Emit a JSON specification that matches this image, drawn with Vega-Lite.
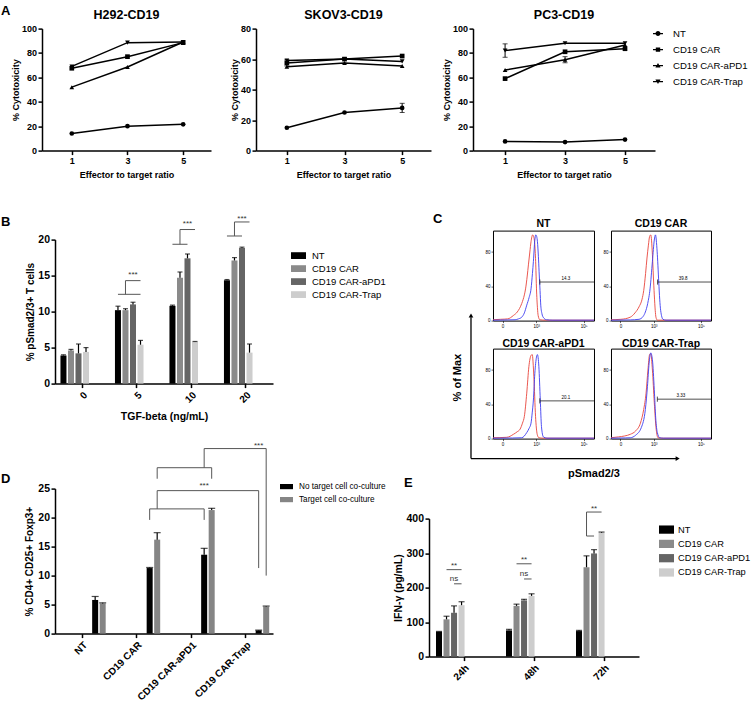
{
"$schema": "https://vega.github.io/schema/vega-lite/v6.json",
"background": "white",
"padding": {"left": 1, "top": 4.6, "right": 0, "bottom": 0},
"autosize": {"type": "pad"},
"spacing": 33,
"resolve": {"scale": {"color": "independent", "shape": "independent"}, "legend": {"color": "independent", "shape": "independent"}},
"datasets": {
"cytotoxicity": [
{"target":"H292-CD19","group":"NT","ratio":1,"pct":14},
{"target":"H292-CD19","group":"NT","ratio":3,"pct":20},
{"target":"H292-CD19","group":"NT","ratio":5,"pct":21.5},
{"target":"H292-CD19","group":"CD19 CAR","ratio":1,"pct":67.5},
{"target":"H292-CD19","group":"CD19 CAR","ratio":3,"pct":77},
{"target":"H292-CD19","group":"CD19 CAR","ratio":5,"pct":88.5},
{"target":"H292-CD19","group":"CD19 CAR-aPD1","ratio":1,"pct":52},
{"target":"H292-CD19","group":"CD19 CAR-aPD1","ratio":3,"pct":68.5},
{"target":"H292-CD19","group":"CD19 CAR-aPD1","ratio":5,"pct":89},
{"target":"H292-CD19","group":"CD19 CAR-Trap","ratio":1,"pct":69},
{"target":"H292-CD19","group":"CD19 CAR-Trap","ratio":3,"pct":88.5},
{"target":"H292-CD19","group":"CD19 CAR-Trap","ratio":5,"pct":89},
{"target":"SKOV3-CD19","group":"NT","ratio":1,"pct":15},
{"target":"SKOV3-CD19","group":"NT","ratio":3,"pct":25},
{"target":"SKOV3-CD19","group":"NT","ratio":5,"pct":28,"lo":25,"hi":31},
{"target":"SKOV3-CD19","group":"CD19 CAR","ratio":1,"pct":57.5,"lo":55.5,"hi":59.5},
{"target":"SKOV3-CD19","group":"CD19 CAR","ratio":3,"pct":60},
{"target":"SKOV3-CD19","group":"CD19 CAR","ratio":5,"pct":62},
{"target":"SKOV3-CD19","group":"CD19 CAR-aPD1","ratio":1,"pct":55},
{"target":"SKOV3-CD19","group":"CD19 CAR-aPD1","ratio":3,"pct":57.5},
{"target":"SKOV3-CD19","group":"CD19 CAR-aPD1","ratio":5,"pct":55.5},
{"target":"SKOV3-CD19","group":"CD19 CAR-Trap","ratio":1,"pct":59},
{"target":"SKOV3-CD19","group":"CD19 CAR-Trap","ratio":3,"pct":60},
{"target":"SKOV3-CD19","group":"CD19 CAR-Trap","ratio":5,"pct":58.5},
{"target":"PC3-CD19","group":"NT","ratio":1,"pct":7.5},
{"target":"PC3-CD19","group":"NT","ratio":3,"pct":7},
{"target":"PC3-CD19","group":"NT","ratio":5,"pct":9},
{"target":"PC3-CD19","group":"CD19 CAR","ratio":1,"pct":59},
{"target":"PC3-CD19","group":"CD19 CAR","ratio":3,"pct":81},
{"target":"PC3-CD19","group":"CD19 CAR","ratio":5,"pct":83.5},
{"target":"PC3-CD19","group":"CD19 CAR-aPD1","ratio":1,"pct":66},
{"target":"PC3-CD19","group":"CD19 CAR-aPD1","ratio":3,"pct":74.5,"lo":72,"hi":77},
{"target":"PC3-CD19","group":"CD19 CAR-aPD1","ratio":5,"pct":86.5},
{"target":"PC3-CD19","group":"CD19 CAR-Trap","ratio":1,"pct":82,"lo":76.5,"hi":87.5},
{"target":"PC3-CD19","group":"CD19 CAR-Trap","ratio":3,"pct":88},
{"target":"PC3-CD19","group":"CD19 CAR-Trap","ratio":5,"pct":88}
],
"pSmad": [
{"tgf":0,"group":"NT","pct":3.9,"hi":4.0},
{"tgf":0,"group":"CD19 CAR","pct":4.6,"hi":4.75},
{"tgf":0,"group":"CD19 CAR-aPD1","pct":4.2,"hi":5.5},
{"tgf":0,"group":"CD19 CAR-Trap","pct":4.4,"hi":5.0},
{"tgf":5,"group":"NT","pct":10.2,"hi":10.75},
{"tgf":5,"group":"CD19 CAR","pct":10.2,"hi":10.4},
{"tgf":5,"group":"CD19 CAR-aPD1","pct":11.0,"hi":11.3},
{"tgf":5,"group":"CD19 CAR-Trap","pct":5.4,"hi":6.0},
{"tgf":10,"group":"NT","pct":10.8,"hi":10.9},
{"tgf":10,"group":"CD19 CAR","pct":14.7,"hi":15.5},
{"tgf":10,"group":"CD19 CAR-aPD1","pct":17.4,"hi":18.0},
{"tgf":10,"group":"CD19 CAR-Trap","pct":5.8,"hi":5.85},
{"tgf":20,"group":"NT","pct":14.35,"hi":14.45},
{"tgf":20,"group":"CD19 CAR","pct":17.1,"hi":17.5},
{"tgf":20,"group":"CD19 CAR-aPD1","pct":18.85,"hi":18.95},
{"tgf":20,"group":"CD19 CAR-Trap","pct":4.3,"hi":5.5}
],
"pSmadBrackets": [
{"seg":"5a","k":1,"tgf":5,"group":"NT","level":12.4},
{"seg":"5a","k":2,"tgf":5,"group":"CD19 CAR-Trap","level":12.4},
{"seg":"5b","k":1,"tgf":5,"group":"CD19 CAR","level":12.4},
{"seg":"5b","k":2,"tgf":5,"group":"CD19 CAR","level":14.3},
{"seg":"5b","k":3,"tgf":5,"group":"CD19 CAR-Trap","level":14.3},
{"seg":"10a","k":1,"tgf":10,"group":"NT","level":19.35},
{"seg":"10a","k":2,"tgf":10,"group":"CD19 CAR-aPD1","level":19.35},
{"seg":"10b","k":1,"tgf":10,"group":"CD19 CAR","level":19.35},
{"seg":"10b","k":2,"tgf":10,"group":"CD19 CAR","level":21.4},
{"seg":"10b","k":3,"tgf":10,"group":"CD19 CAR-Trap","level":21.4},
{"seg":"20a","k":1,"tgf":20,"group":"NT","level":20.5},
{"seg":"20a","k":2,"tgf":20,"group":"CD19 CAR-aPD1","level":20.5},
{"seg":"20b","k":1,"tgf":20,"group":"CD19 CAR","level":20.5},
{"seg":"20b","k":2,"tgf":20,"group":"CD19 CAR","level":22.45},
{"seg":"20b","k":3,"tgf":20,"group":"CD19 CAR-Trap","level":22.45}
],
"pSmadStars": [
{"tgf":5,"group":"CD19 CAR-aPD1","level":14.8,"label":"***"},
{"tgf":10,"group":"CD19 CAR-aPD1","level":21.9,"label":"***"},
{"tgf":20,"group":"CD19 CAR-aPD1","level":22.65,"label":"***"}
],
"treg": [
{"cell":"NT","culture":"No target cell co-culture","pct":5.8,"hi":6.4},
{"cell":"NT","culture":"Target cell co-culture","pct":5.2,"hi":5.3},
{"cell":"CD19 CAR","culture":"No target cell co-culture","pct":11.3,"hi":11.4},
{"cell":"CD19 CAR","culture":"Target cell co-culture","pct":16.2,"hi":17.4},
{"cell":"CD19 CAR-aPD1","culture":"No target cell co-culture","pct":13.6,"hi":14.7},
{"cell":"CD19 CAR-aPD1","culture":"Target cell co-culture","pct":21.3,"hi":21.6},
{"cell":"CD19 CAR-Trap","culture":"No target cell co-culture","pct":0.55,"hi":0.6},
{"cell":"CD19 CAR-Trap","culture":"Target cell co-culture","pct":4.65,"hi":4.75}
],
"tregBrackets": [
{"seg":"1a","k":1,"cell":"CD19 CAR","culture":"No target cell co-culture","level":19.6},
{"seg":"1a","k":2,"cell":"CD19 CAR","culture":"No target cell co-culture","level":21.5},
{"seg":"1a","k":3,"cell":"CD19 CAR-aPD1","culture":"No target cell co-culture","level":21.5},
{"seg":"1a","k":4,"cell":"CD19 CAR-aPD1","culture":"No target cell co-culture","level":19.6},
{"seg":"1b","k":1,"cell":"CD19 CAR","culture":"Target cell co-culture","level":21.5},
{"seg":"1b","k":2,"cell":"CD19 CAR","culture":"Target cell co-culture","level":24.65},
{"seg":"1b","k":3,"cell":"CD19 CAR-Trap","culture":"No target cell co-culture","level":24.65},
{"seg":"1b","k":4,"cell":"CD19 CAR-Trap","culture":"No target cell co-culture","level":11.3},
{"seg":"2a","k":1,"cell":"CD19 CAR","culture":"Target cell co-culture","level":26.7},
{"seg":"2a","k":2,"cell":"CD19 CAR","culture":"Target cell co-culture","level":28.6},
{"seg":"2a","k":3,"cell":"CD19 CAR-aPD1","culture":"Target cell co-culture","level":28.6},
{"seg":"2a","k":4,"cell":"CD19 CAR-aPD1","culture":"Target cell co-culture","level":26.7},
{"seg":"2b","k":1,"cell":"CD19 CAR-aPD1","culture":"No target cell co-culture","level":28.6},
{"seg":"2b","k":2,"cell":"CD19 CAR-aPD1","culture":"No target cell co-culture","level":31.9},
{"seg":"2b","k":3,"cell":"CD19 CAR-Trap","culture":"Target cell co-culture","level":31.9},
{"seg":"2b","k":4,"cell":"CD19 CAR-Trap","culture":"Target cell co-culture","level":10.0}
],
"tregStars": [
{"cell":"CD19 CAR-aPD1","culture":"No target cell co-culture","level":25.1,"label":"***"},
{"cell":"CD19 CAR-Trap","culture":"No target cell co-culture","level":32.0,"label":"***"}
],
"ifng": [
{"time":"24h","group":"NT","ifng":72,"hi":73},
{"time":"24h","group":"CD19 CAR","ifng":108,"hi":117},
{"time":"24h","group":"CD19 CAR-aPD1","ifng":127,"hi":147},
{"time":"24h","group":"CD19 CAR-Trap","ifng":149,"hi":159},
{"time":"48h","group":"NT","ifng":76,"hi":79},
{"time":"48h","group":"CD19 CAR","ifng":147,"hi":152},
{"time":"48h","group":"CD19 CAR-aPD1","ifng":163,"hi":166},
{"time":"48h","group":"CD19 CAR-Trap","ifng":176,"hi":182},
{"time":"72h","group":"NT","ifng":74,"hi":76},
{"time":"72h","group":"CD19 CAR","ifng":259,"hi":292},
{"time":"72h","group":"CD19 CAR-aPD1","ifng":299,"hi":310},
{"time":"72h","group":"CD19 CAR-Trap","ifng":359,"hi":361}
],
"ifngBrackets": [
{"seg":"24a","k":1,"time":"24h","group":"CD19 CAR","level":252},
{"seg":"24a","k":2,"time":"24h","group":"CD19 CAR-Trap","level":252},
{"seg":"24b","k":1,"time":"24h","group":"CD19 CAR-aPD1","level":211},
{"seg":"24b","k":2,"time":"24h","group":"CD19 CAR-Trap","level":211},
{"seg":"48a","k":1,"time":"48h","group":"CD19 CAR","level":269},
{"seg":"48a","k":2,"time":"48h","group":"CD19 CAR-Trap","level":269},
{"seg":"48b","k":1,"time":"48h","group":"CD19 CAR-aPD1","level":225},
{"seg":"48b","k":2,"time":"48h","group":"CD19 CAR-Trap","level":225},
{"seg":"72a","k":1,"time":"72h","group":"CD19 CAR","level":349.5},
{"seg":"72a","k":2,"time":"72h","group":"CD19 CAR-aPD1","level":349.5},
{"seg":"72b","k":1,"time":"72h","group":"CD19 CAR","level":349.5},
{"seg":"72b","k":2,"time":"72h","group":"CD19 CAR","level":419},
{"seg":"72b","k":3,"time":"72h","group":"CD19 CAR-Trap","level":419}
],
"ifngStars": [
{"time":"24h","group":"CD19 CAR-aPD1","level":257,"label":"**"},
{"time":"24h","group":"CD19 CAR-aPD1","level":218,"label":"ns"},
{"time":"48h","group":"CD19 CAR-aPD1","level":274.5,"label":"**"},
{"time":"48h","group":"CD19 CAR-aPD1","level":232.5,"label":"ns"},
{"time":"72h","group":"CD19 CAR-aPD1","level":421.5,"label":"**"}
],
"gates": [
{"sample":"NT","gate_start":3.15,"percent":"14.3"},
{"sample":"CD19 CAR","gate_start":3.16,"percent":"39.8"},
{"sample":"CD19 CAR-aPD1","gate_start":3.15,"percent":"20.1"},
{"sample":"CD19 CAR-Trap","gate_start":3.15,"percent":"3.33"}
],
"histograms": [
{"sample":"NT","stain":"Unstimulated","log_fi":1.18,"pct_max":1},
{"sample":"NT","stain":"Unstimulated","log_fi":1.5,"pct_max":1.5},
{"sample":"NT","stain":"Unstimulated","log_fi":1.8,"pct_max":2},
{"sample":"NT","stain":"Unstimulated","log_fi":2.04,"pct_max":6},
{"sample":"NT","stain":"Unstimulated","log_fi":2.2,"pct_max":10},
{"sample":"NT","stain":"Unstimulated","log_fi":2.39,"pct_max":20},
{"sample":"NT","stain":"Unstimulated","log_fi":2.5,"pct_max":30},
{"sample":"NT","stain":"Unstimulated","log_fi":2.55,"pct_max":37},
{"sample":"NT","stain":"Unstimulated","log_fi":2.62,"pct_max":52},
{"sample":"NT","stain":"Unstimulated","log_fi":2.67,"pct_max":65},
{"sample":"NT","stain":"Unstimulated","log_fi":2.73,"pct_max":80},
{"sample":"NT","stain":"Unstimulated","log_fi":2.78,"pct_max":92},
{"sample":"NT","stain":"Unstimulated","log_fi":2.85,"pct_max":100},
{"sample":"NT","stain":"Unstimulated","log_fi":2.9,"pct_max":97},
{"sample":"NT","stain":"Unstimulated","log_fi":2.94,"pct_max":88},
{"sample":"NT","stain":"Unstimulated","log_fi":2.98,"pct_max":65},
{"sample":"NT","stain":"Unstimulated","log_fi":3.01,"pct_max":37},
{"sample":"NT","stain":"Unstimulated","log_fi":3.05,"pct_max":15},
{"sample":"NT","stain":"Unstimulated","log_fi":3.08,"pct_max":6},
{"sample":"NT","stain":"Unstimulated","log_fi":3.15,"pct_max":1},
{"sample":"NT","stain":"Unstimulated","log_fi":3.4,"pct_max":0.5},
{"sample":"NT","stain":"Unstimulated","log_fi":5.43,"pct_max":0.5},
{"sample":"NT","stain":"TGF-beta","log_fi":1.18,"pct_max":0.5},
{"sample":"NT","stain":"TGF-beta","log_fi":1.8,"pct_max":0.8},
{"sample":"NT","stain":"TGF-beta","log_fi":2.11,"pct_max":1},
{"sample":"NT","stain":"TGF-beta","log_fi":2.25,"pct_max":2},
{"sample":"NT","stain":"TGF-beta","log_fi":2.39,"pct_max":4},
{"sample":"NT","stain":"TGF-beta","log_fi":2.5,"pct_max":9},
{"sample":"NT","stain":"TGF-beta","log_fi":2.6,"pct_max":18},
{"sample":"NT","stain":"TGF-beta","log_fi":2.7,"pct_max":27},
{"sample":"NT","stain":"TGF-beta","log_fi":2.78,"pct_max":37},
{"sample":"NT","stain":"TGF-beta","log_fi":2.84,"pct_max":55},
{"sample":"NT","stain":"TGF-beta","log_fi":2.88,"pct_max":69},
{"sample":"NT","stain":"TGF-beta","log_fi":2.94,"pct_max":94},
{"sample":"NT","stain":"TGF-beta","log_fi":2.98,"pct_max":100},
{"sample":"NT","stain":"TGF-beta","log_fi":3.02,"pct_max":98},
{"sample":"NT","stain":"TGF-beta","log_fi":3.05,"pct_max":92},
{"sample":"NT","stain":"TGF-beta","log_fi":3.09,"pct_max":75},
{"sample":"NT","stain":"TGF-beta","log_fi":3.12,"pct_max":57},
{"sample":"NT","stain":"TGF-beta","log_fi":3.16,"pct_max":35},
{"sample":"NT","stain":"TGF-beta","log_fi":3.19,"pct_max":18},
{"sample":"NT","stain":"TGF-beta","log_fi":3.24,"pct_max":8},
{"sample":"NT","stain":"TGF-beta","log_fi":3.29,"pct_max":4},
{"sample":"NT","stain":"TGF-beta","log_fi":3.43,"pct_max":1},
{"sample":"NT","stain":"TGF-beta","log_fi":3.7,"pct_max":0.5},
{"sample":"NT","stain":"TGF-beta","log_fi":5.43,"pct_max":0.5},
{"sample":"CD19 CAR","stain":"Unstimulated","log_fi":1.18,"pct_max":1},
{"sample":"CD19 CAR","stain":"Unstimulated","log_fi":1.6,"pct_max":1.5},
{"sample":"CD19 CAR","stain":"Unstimulated","log_fi":2.0,"pct_max":4},
{"sample":"CD19 CAR","stain":"Unstimulated","log_fi":2.2,"pct_max":9},
{"sample":"CD19 CAR","stain":"Unstimulated","log_fi":2.37,"pct_max":16},
{"sample":"CD19 CAR","stain":"Unstimulated","log_fi":2.5,"pct_max":25},
{"sample":"CD19 CAR","stain":"Unstimulated","log_fi":2.57,"pct_max":35},
{"sample":"CD19 CAR","stain":"Unstimulated","log_fi":2.65,"pct_max":55},
{"sample":"CD19 CAR","stain":"Unstimulated","log_fi":2.71,"pct_max":73},
{"sample":"CD19 CAR","stain":"Unstimulated","log_fi":2.77,"pct_max":88},
{"sample":"CD19 CAR","stain":"Unstimulated","log_fi":2.82,"pct_max":98},
{"sample":"CD19 CAR","stain":"Unstimulated","log_fi":2.87,"pct_max":100},
{"sample":"CD19 CAR","stain":"Unstimulated","log_fi":2.94,"pct_max":77},
{"sample":"CD19 CAR","stain":"Unstimulated","log_fi":2.98,"pct_max":52},
{"sample":"CD19 CAR","stain":"Unstimulated","log_fi":3.02,"pct_max":30},
{"sample":"CD19 CAR","stain":"Unstimulated","log_fi":3.06,"pct_max":12},
{"sample":"CD19 CAR","stain":"Unstimulated","log_fi":3.09,"pct_max":4},
{"sample":"CD19 CAR","stain":"Unstimulated","log_fi":3.15,"pct_max":0.5},
{"sample":"CD19 CAR","stain":"Unstimulated","log_fi":5.43,"pct_max":0.5},
{"sample":"CD19 CAR","stain":"TGF-beta","log_fi":1.18,"pct_max":0.5},
{"sample":"CD19 CAR","stain":"TGF-beta","log_fi":2.0,"pct_max":0.8},
{"sample":"CD19 CAR","stain":"TGF-beta","log_fi":2.37,"pct_max":1.5},
{"sample":"CD19 CAR","stain":"TGF-beta","log_fi":2.55,"pct_max":5},
{"sample":"CD19 CAR","stain":"TGF-beta","log_fi":2.64,"pct_max":10},
{"sample":"CD19 CAR","stain":"TGF-beta","log_fi":2.74,"pct_max":20},
{"sample":"CD19 CAR","stain":"TGF-beta","log_fi":2.84,"pct_max":37},
{"sample":"CD19 CAR","stain":"TGF-beta","log_fi":2.94,"pct_max":69},
{"sample":"CD19 CAR","stain":"TGF-beta","log_fi":3.02,"pct_max":94},
{"sample":"CD19 CAR","stain":"TGF-beta","log_fi":3.07,"pct_max":100},
{"sample":"CD19 CAR","stain":"TGF-beta","log_fi":3.14,"pct_max":81},
{"sample":"CD19 CAR","stain":"TGF-beta","log_fi":3.21,"pct_max":45},
{"sample":"CD19 CAR","stain":"TGF-beta","log_fi":3.25,"pct_max":25},
{"sample":"CD19 CAR","stain":"TGF-beta","log_fi":3.29,"pct_max":12},
{"sample":"CD19 CAR","stain":"TGF-beta","log_fi":3.39,"pct_max":1.5},
{"sample":"CD19 CAR","stain":"TGF-beta","log_fi":3.52,"pct_max":0.5},
{"sample":"CD19 CAR","stain":"TGF-beta","log_fi":5.43,"pct_max":0.5},
{"sample":"CD19 CAR-aPD1","stain":"Unstimulated","log_fi":1.18,"pct_max":1},
{"sample":"CD19 CAR-aPD1","stain":"Unstimulated","log_fi":1.76,"pct_max":1.5},
{"sample":"CD19 CAR-aPD1","stain":"Unstimulated","log_fi":2.04,"pct_max":5},
{"sample":"CD19 CAR-aPD1","stain":"Unstimulated","log_fi":2.2,"pct_max":8},
{"sample":"CD19 CAR-aPD1","stain":"Unstimulated","log_fi":2.32,"pct_max":11},
{"sample":"CD19 CAR-aPD1","stain":"Unstimulated","log_fi":2.42,"pct_max":18},
{"sample":"CD19 CAR-aPD1","stain":"Unstimulated","log_fi":2.5,"pct_max":26},
{"sample":"CD19 CAR-aPD1","stain":"Unstimulated","log_fi":2.6,"pct_max":53},
{"sample":"CD19 CAR-aPD1","stain":"Unstimulated","log_fi":2.69,"pct_max":84},
{"sample":"CD19 CAR-aPD1","stain":"Unstimulated","log_fi":2.78,"pct_max":97},
{"sample":"CD19 CAR-aPD1","stain":"Unstimulated","log_fi":2.83,"pct_max":98},
{"sample":"CD19 CAR-aPD1","stain":"Unstimulated","log_fi":2.9,"pct_max":72},
{"sample":"CD19 CAR-aPD1","stain":"Unstimulated","log_fi":2.97,"pct_max":26},
{"sample":"CD19 CAR-aPD1","stain":"Unstimulated","log_fi":3.04,"pct_max":5},
{"sample":"CD19 CAR-aPD1","stain":"Unstimulated","log_fi":3.11,"pct_max":1},
{"sample":"CD19 CAR-aPD1","stain":"Unstimulated","log_fi":3.3,"pct_max":0.5},
{"sample":"CD19 CAR-aPD1","stain":"Unstimulated","log_fi":5.43,"pct_max":0.5},
{"sample":"CD19 CAR-aPD1","stain":"TGF-beta","log_fi":1.18,"pct_max":0.5},
{"sample":"CD19 CAR-aPD1","stain":"TGF-beta","log_fi":2.0,"pct_max":0.7},
{"sample":"CD19 CAR-aPD1","stain":"TGF-beta","log_fi":2.39,"pct_max":1},
{"sample":"CD19 CAR-aPD1","stain":"TGF-beta","log_fi":2.6,"pct_max":7},
{"sample":"CD19 CAR-aPD1","stain":"TGF-beta","log_fi":2.7,"pct_max":12},
{"sample":"CD19 CAR-aPD1","stain":"TGF-beta","log_fi":2.78,"pct_max":18},
{"sample":"CD19 CAR-aPD1","stain":"TGF-beta","log_fi":2.83,"pct_max":30},
{"sample":"CD19 CAR-aPD1","stain":"TGF-beta","log_fi":2.88,"pct_max":45},
{"sample":"CD19 CAR-aPD1","stain":"TGF-beta","log_fi":2.94,"pct_max":76},
{"sample":"CD19 CAR-aPD1","stain":"TGF-beta","log_fi":3.01,"pct_max":95},
{"sample":"CD19 CAR-aPD1","stain":"TGF-beta","log_fi":3.05,"pct_max":98},
{"sample":"CD19 CAR-aPD1","stain":"TGF-beta","log_fi":3.11,"pct_max":84},
{"sample":"CD19 CAR-aPD1","stain":"TGF-beta","log_fi":3.17,"pct_max":45},
{"sample":"CD19 CAR-aPD1","stain":"TGF-beta","log_fi":3.22,"pct_max":14},
{"sample":"CD19 CAR-aPD1","stain":"TGF-beta","log_fi":3.3,"pct_max":2},
{"sample":"CD19 CAR-aPD1","stain":"TGF-beta","log_fi":3.45,"pct_max":0.5},
{"sample":"CD19 CAR-aPD1","stain":"TGF-beta","log_fi":5.43,"pct_max":0.5},
{"sample":"CD19 CAR-Trap","stain":"Unstimulated","log_fi":1.18,"pct_max":1},
{"sample":"CD19 CAR-Trap","stain":"Unstimulated","log_fi":1.5,"pct_max":2},
{"sample":"CD19 CAR-Trap","stain":"Unstimulated","log_fi":1.75,"pct_max":3},
{"sample":"CD19 CAR-Trap","stain":"Unstimulated","log_fi":2.0,"pct_max":5},
{"sample":"CD19 CAR-Trap","stain":"Unstimulated","log_fi":2.23,"pct_max":9},
{"sample":"CD19 CAR-Trap","stain":"Unstimulated","log_fi":2.43,"pct_max":18},
{"sample":"CD19 CAR-Trap","stain":"Unstimulated","log_fi":2.57,"pct_max":34},
{"sample":"CD19 CAR-Trap","stain":"Unstimulated","log_fi":2.67,"pct_max":53},
{"sample":"CD19 CAR-Trap","stain":"Unstimulated","log_fi":2.75,"pct_max":80},
{"sample":"CD19 CAR-Trap","stain":"Unstimulated","log_fi":2.82,"pct_max":98},
{"sample":"CD19 CAR-Trap","stain":"Unstimulated","log_fi":2.87,"pct_max":99},
{"sample":"CD19 CAR-Trap","stain":"Unstimulated","log_fi":2.94,"pct_max":80},
{"sample":"CD19 CAR-Trap","stain":"Unstimulated","log_fi":3.02,"pct_max":42},
{"sample":"CD19 CAR-Trap","stain":"Unstimulated","log_fi":3.1,"pct_max":11},
{"sample":"CD19 CAR-Trap","stain":"Unstimulated","log_fi":3.18,"pct_max":1},
{"sample":"CD19 CAR-Trap","stain":"Unstimulated","log_fi":3.4,"pct_max":0.5},
{"sample":"CD19 CAR-Trap","stain":"Unstimulated","log_fi":5.43,"pct_max":0.5},
{"sample":"CD19 CAR-Trap","stain":"TGF-beta","log_fi":1.18,"pct_max":0.5},
{"sample":"CD19 CAR-Trap","stain":"TGF-beta","log_fi":1.8,"pct_max":0.8},
{"sample":"CD19 CAR-Trap","stain":"TGF-beta","log_fi":2.0,"pct_max":1},
{"sample":"CD19 CAR-Trap","stain":"TGF-beta","log_fi":2.23,"pct_max":4},
{"sample":"CD19 CAR-Trap","stain":"TGF-beta","log_fi":2.47,"pct_max":13},
{"sample":"CD19 CAR-Trap","stain":"TGF-beta","log_fi":2.64,"pct_max":34},
{"sample":"CD19 CAR-Trap","stain":"TGF-beta","log_fi":2.73,"pct_max":61},
{"sample":"CD19 CAR-Trap","stain":"TGF-beta","log_fi":2.8,"pct_max":88},
{"sample":"CD19 CAR-Trap","stain":"TGF-beta","log_fi":2.87,"pct_max":100},
{"sample":"CD19 CAR-Trap","stain":"TGF-beta","log_fi":2.94,"pct_max":92},
{"sample":"CD19 CAR-Trap","stain":"TGF-beta","log_fi":3.02,"pct_max":57},
{"sample":"CD19 CAR-Trap","stain":"TGF-beta","log_fi":3.08,"pct_max":24},
{"sample":"CD19 CAR-Trap","stain":"TGF-beta","log_fi":3.15,"pct_max":7},
{"sample":"CD19 CAR-Trap","stain":"TGF-beta","log_fi":3.25,"pct_max":1},
{"sample":"CD19 CAR-Trap","stain":"TGF-beta","log_fi":3.4,"pct_max":0.5},
{"sample":"CD19 CAR-Trap","stain":"TGF-beta","log_fi":5.43,"pct_max":0.5}
]
},
"vconcat": [
{"hconcat": [
{"width":39,"height":122,"data":{"values":[]},"mark":"point","title":{"text":"A","anchor":"start","frame":"group","dx":-2,"dy":-0.5,"offset":0,"fontSize":13,"baseline":"alphabetic"}},
{"width":169,"height":122,"data":{"name":"cytotoxicity"},"transform":[{"filter":"datum.target === 'H292-CD19'"}],
 "title":{"text":"H292-CD19","fontSize":12.5,"offset":0,"dy":6.5,"baseline":"alphabetic","frame":"group"},
 "layer":[
  {"mark":{"type":"line","color":"black","strokeWidth":1.5},"encoding":{"x":{"field":"ratio","type":"quantitative","scale":{"domain":[-0.07,6],"nice":false,"zero":false},"axis":{"values":[1,3,5],"title":"Effector to target ratio","titlePadding":5}},"y":{"field":"pct","type":"quantitative","scale":{"domain":[0,100]},"axis":{"values":[0,20,40,60,80,100],"title":"% Cytotoxicity","titlePadding":1}},"detail":{"field":"group"}}},
  {"mark":{"type":"point","filled":true,"color":"black","opacity":1,"size":22},"encoding":{"x":{"field":"ratio","type":"quantitative","scale":{"domain":[-0.07,6],"nice":false,"zero":false},"axis":{"values":[1,3,5],"title":"Effector to target ratio","titlePadding":5}},"y":{"field":"pct","type":"quantitative","scale":{"domain":[0,100]},"axis":{"values":[0,20,40,60,80,100],"title":"% Cytotoxicity","titlePadding":1}},"shape":{"field":"group","type":"nominal","scale":{"domain":["NT","CD19 CAR","CD19 CAR-aPD1","CD19 CAR-Trap"],"range":["circle","square","triangle-up","triangle-down"]},"legend":null}}}
 ]},
{"width":45,"height":122,"data":{"values":[]},"mark":"point"},
{"width":175,"height":122,"data":{"name":"cytotoxicity"},"transform":[{"filter":"datum.target === 'SKOV3-CD19'"}],
 "title":{"text":"SKOV3-CD19","fontSize":12.5,"offset":0,"dy":6.5,"baseline":"alphabetic","frame":"group"},
 "layer":[
  {"mark":{"type":"line","color":"black","strokeWidth":1.5},"encoding":{"x":{"field":"ratio","type":"quantitative","scale":{"domain":[-0.07,6],"nice":false,"zero":false},"axis":{"values":[1,3,5],"title":"Effector to target ratio","titlePadding":5}},"y":{"field":"pct","type":"quantitative","scale":{"domain":[0,80]},"axis":{"values":[0,20,40,60,80],"title":"% Cytotoxicity","titlePadding":1}},"detail":{"field":"group"}}},
  {"transform":[{"filter":"datum.hi != null"}],"mark":{"type":"rule","color":"black","strokeWidth":1},"encoding":{"x":{"field":"ratio","type":"quantitative","scale":{"domain":[-0.07,6],"nice":false,"zero":false},"axis":{"values":[1,3,5],"title":"Effector to target ratio","titlePadding":5}},"y":{"field":"lo","type":"quantitative","scale":{"domain":[0,80]},"axis":{"values":[0,20,40,60,80],"title":"% Cytotoxicity","titlePadding":1}},"y2":{"field":"hi"}}},
  {"transform":[{"filter":"datum.hi != null"}],"mark":{"type":"tick","orient":"horizontal","size":5,"thickness":1,"color":"black"},"encoding":{"x":{"field":"ratio","type":"quantitative","scale":{"domain":[-0.07,6],"nice":false,"zero":false},"axis":{"values":[1,3,5],"title":"Effector to target ratio","titlePadding":5}},"y":{"field":"hi","type":"quantitative","scale":{"domain":[0,80]},"axis":{"values":[0,20,40,60,80],"title":"% Cytotoxicity","titlePadding":1}}}},
  {"transform":[{"filter":"datum.hi != null"}],"mark":{"type":"tick","orient":"horizontal","size":5,"thickness":1,"color":"black"},"encoding":{"x":{"field":"ratio","type":"quantitative","scale":{"domain":[-0.07,6],"nice":false,"zero":false},"axis":{"values":[1,3,5],"title":"Effector to target ratio","titlePadding":5}},"y":{"field":"lo","type":"quantitative","scale":{"domain":[0,80]},"axis":{"values":[0,20,40,60,80],"title":"% Cytotoxicity","titlePadding":1}}}},
  {"mark":{"type":"point","filled":true,"color":"black","opacity":1,"size":22},"encoding":{"x":{"field":"ratio","type":"quantitative","scale":{"domain":[-0.07,6],"nice":false,"zero":false},"axis":{"values":[1,3,5],"title":"Effector to target ratio","titlePadding":5}},"y":{"field":"pct","type":"quantitative","scale":{"domain":[0,80]},"axis":{"values":[0,20,40,60,80],"title":"% Cytotoxicity","titlePadding":1}},"shape":{"field":"group","type":"nominal","scale":{"domain":["NT","CD19 CAR","CD19 CAR-aPD1","CD19 CAR-Trap"],"range":["circle","square","triangle-up","triangle-down"]},"legend":null}}}
 ]},
{"width":42,"height":122,"data":{"values":[]},"mark":"point"},
{"width":182,"height":122,"data":{"name":"cytotoxicity"},"transform":[{"filter":"datum.target === 'PC3-CD19'"}],
 "title":{"text":"PC3-CD19","fontSize":12.5,"offset":0,"dy":6.5,"baseline":"alphabetic","frame":"group"},
 "resolve":{"scale":{"shape":"independent"},"legend":{"shape":"independent"}},
 "layer":[
  {"mark":{"type":"line","color":"black","strokeWidth":1.5},"encoding":{"x":{"field":"ratio","type":"quantitative","scale":{"domain":[-0.07,6],"nice":false,"zero":false},"axis":{"values":[1,3,5],"title":"Effector to target ratio","titlePadding":5}},"y":{"field":"pct","type":"quantitative","scale":{"domain":[0,100]},"axis":{"values":[0,20,40,60,80,100],"title":"% Cytotoxicity","titlePadding":1}},"detail":{"field":"group"}}},
  {"transform":[{"filter":"datum.hi != null"}],"mark":{"type":"rule","color":"black","strokeWidth":1},"encoding":{"x":{"field":"ratio","type":"quantitative","scale":{"domain":[-0.07,6],"nice":false,"zero":false},"axis":{"values":[1,3,5],"title":"Effector to target ratio","titlePadding":5}},"y":{"field":"lo","type":"quantitative","scale":{"domain":[0,100]},"axis":{"values":[0,20,40,60,80,100],"title":"% Cytotoxicity","titlePadding":1}},"y2":{"field":"hi"}}},
  {"transform":[{"filter":"datum.hi != null"}],"mark":{"type":"tick","orient":"horizontal","size":5,"thickness":1,"color":"black"},"encoding":{"x":{"field":"ratio","type":"quantitative","scale":{"domain":[-0.07,6],"nice":false,"zero":false},"axis":{"values":[1,3,5],"title":"Effector to target ratio","titlePadding":5}},"y":{"field":"hi","type":"quantitative","scale":{"domain":[0,100]},"axis":{"values":[0,20,40,60,80,100],"title":"% Cytotoxicity","titlePadding":1}}}},
  {"transform":[{"filter":"datum.hi != null"}],"mark":{"type":"tick","orient":"horizontal","size":5,"thickness":1,"color":"black"},"encoding":{"x":{"field":"ratio","type":"quantitative","scale":{"domain":[-0.07,6],"nice":false,"zero":false},"axis":{"values":[1,3,5],"title":"Effector to target ratio","titlePadding":5}},"y":{"field":"lo","type":"quantitative","scale":{"domain":[0,100]},"axis":{"values":[0,20,40,60,80,100],"title":"% Cytotoxicity","titlePadding":1}}}},
  {"mark":{"type":"point","filled":true,"color":"black","opacity":1,"size":22},"encoding":{"x":{"field":"ratio","type":"quantitative","scale":{"domain":[-0.07,6],"nice":false,"zero":false},"axis":{"values":[1,3,5],"title":"Effector to target ratio","titlePadding":5}},"y":{"field":"pct","type":"quantitative","scale":{"domain":[0,100]},"axis":{"values":[0,20,40,60,80,100],"title":"% Cytotoxicity","titlePadding":1}},"shape":{"field":"group","type":"nominal","scale":{"domain":["NT","CD19 CAR","CD19 CAR-aPD1","CD19 CAR-Trap"],"range":["circle","square","triangle-up","triangle-down"]},"legend":null}}},
  {"mark":{"type":"point","filled":true,"color":"black","opacity":0,"size":22},"encoding":{"x":{"field":"ratio","type":"quantitative","scale":{"domain":[-0.07,6],"nice":false,"zero":false},"axis":{"values":[1,3,5],"title":"Effector to target ratio","titlePadding":5}},"y":{"field":"pct","type":"quantitative","scale":{"domain":[0,100]},"axis":{"values":[0,20,40,60,80,100],"title":"% Cytotoxicity","titlePadding":1}},
   "shape":{"field":"group","type":"nominal","scale":{"domain":["NT","CD19 CAR","CD19 CAR-aPD1","CD19 CAR-Trap"],"range":["M-1,-0.12H1V0.12H-1ZM-0.5,0A0.5,0.5,0,1,1,0.5,0A0.5,0.5,0,1,1,-0.5,0Z","M-1,-0.12H1V0.12H-1ZM-0.44,-0.44H0.44V0.44H-0.44Z","M-1,-0.12H1V0.12H-1ZM0,-0.5L0.52,0.4H-0.52Z","M-1,-0.12H1V0.12H-1ZM0,0.5L-0.52,-0.4H0.52Z"]},
    "legend":{"orient":"none","legendX":180,"legendY":0,"title":null,"padding":0,"symbolSize":100,"labelFontSize":9.6,"labelFontWeight":"normal","labelOffset":10,"rowPadding":6,"labelColor":"black","symbolOpacity":1,"symbolFillColor":"black","symbolStrokeWidth":0}}}}
 ]}
], "spacing": 0, "bounds": "flush", "resolve": {"scale": {"color": "independent", "shape": "independent"}, "legend": {"color": "independent", "shape": "independent"}}},
{"hconcat": [
 {"concat": [
  {"width":52,"height":9,"data":{"values":[]},"mark":"point"},
  {"width":1,"height":9,"data":{"values":[]},"mark":"point"},
  {"width":52,"height":144,"data":{"values":[]},"mark":"point","title":{"text":"B","anchor":"start","frame":"group","dx":-2,"dy":-0.8,"offset":0,"fontSize":13,"baseline":"alphabetic"}},
  {"width":218,"height":144,
   "layer":[
    {"data":{"name":"pSmad"},"mark":{"type":"bar"},"encoding":{
      "x":{"field":"tgf","type":"ordinal","scale":{"paddingInner":0.2,"paddingOuter":0.1},"axis":{"title":"TGF-beta (ng/mL)","labelAngle":-45,"titlePadding":7,"titleFontSize":10.5,"labelFontSize":10,"labelPadding":2}},
      "xOffset":{"field":"group","type":"nominal","scale":{"domain":["NT","CD19 CAR","CD19 CAR-aPD1","CD19 CAR-Trap"],"paddingInner":0.2}},
      "y":{"field":"pct","type":"quantitative","scale":{"domain":[0,20]},"axis":{"values":[0,5,10,15,20],"title":"% pSmad2/3+ T cells","titlePadding":2,"labelFontSize":10.5,"titleFontSize":10}},
      "color":{"field":"group","type":"nominal","scale":{"domain":["NT","CD19 CAR","CD19 CAR-aPD1","CD19 CAR-Trap"],"range":["#000000","#8a8a8a","#656565","#cdcdcd"]},
        "legend":{"orient":"none","legendX":236,"legendY":8.5,"title":null,"padding":0,"symbolType":"M-1,-0.45H1V0.45H-1Z","symbolSize":225,"labelFontSize":9.5,"labelFontWeight":"normal","labelOffset":6,"rowPadding":1,"symbolStrokeWidth":0,"labelColor":"black"}}}},
    {"data":{"name":"pSmad"},"mark":{"type":"rule","color":"black","strokeWidth":1.2},"encoding":{
      "x":{"field":"tgf","type":"ordinal","scale":{"paddingInner":0.2,"paddingOuter":0.1},"axis":{"title":"TGF-beta (ng/mL)","labelAngle":-45,"titlePadding":7,"titleFontSize":10.5,"labelFontSize":10,"labelPadding":2}},
      "xOffset":{"field":"group","type":"nominal","scale":{"domain":["NT","CD19 CAR","CD19 CAR-aPD1","CD19 CAR-Trap"],"paddingInner":0.2}},
      "y":{"field":"pct","type":"quantitative","scale":{"domain":[0,20]},"axis":{"values":[0,5,10,15,20],"title":"% pSmad2/3+ T cells","titlePadding":2,"labelFontSize":10.5,"titleFontSize":10}},"y2":{"field":"hi"}}},
    {"data":{"name":"pSmad"},"mark":{"type":"tick","orient":"horizontal","size":5,"thickness":1.2,"color":"black"},"encoding":{
      "x":{"field":"tgf","type":"ordinal","scale":{"paddingInner":0.2,"paddingOuter":0.1},"axis":{"title":"TGF-beta (ng/mL)","labelAngle":-45,"titlePadding":7,"titleFontSize":10.5,"labelFontSize":10,"labelPadding":2}},
      "xOffset":{"field":"group","type":"nominal","scale":{"domain":["NT","CD19 CAR","CD19 CAR-aPD1","CD19 CAR-Trap"],"paddingInner":0.2}},
      "y":{"field":"hi","type":"quantitative","scale":{"domain":[0,20]},"axis":{"values":[0,5,10,15,20],"title":"% pSmad2/3+ T cells","titlePadding":2,"labelFontSize":10.5,"titleFontSize":10}}}},
    {"data":{"name":"pSmadBrackets"},"mark":{"type":"line","color":"#555555","strokeWidth":1},"encoding":{
      "x":{"field":"tgf","type":"ordinal","scale":{"paddingInner":0.2,"paddingOuter":0.1},"axis":{"title":"TGF-beta (ng/mL)","labelAngle":-45,"titlePadding":7,"titleFontSize":10.5,"labelFontSize":10,"labelPadding":2}},
      "xOffset":{"field":"group","type":"nominal","scale":{"domain":["NT","CD19 CAR","CD19 CAR-aPD1","CD19 CAR-Trap"],"paddingInner":0.2}},
      "y":{"field":"level","type":"quantitative","scale":{"domain":[0,20]},"axis":{"values":[0,5,10,15,20],"title":"% pSmad2/3+ T cells","titlePadding":2,"labelFontSize":10.5,"titleFontSize":10}},"detail":{"field":"seg"},"order":{"field":"k"}}},
    {"data":{"name":"pSmadStars"},"mark":{"type":"text","fontSize":8,"color":"#333333","baseline":"alphabetic"},"encoding":{
      "x":{"field":"tgf","type":"ordinal","scale":{"paddingInner":0.2,"paddingOuter":0.1},"axis":{"title":"TGF-beta (ng/mL)","labelAngle":-45,"titlePadding":7,"titleFontSize":10.5,"labelFontSize":10,"labelPadding":2}},
      "xOffset":{"field":"group","type":"nominal","scale":{"domain":["NT","CD19 CAR","CD19 CAR-aPD1","CD19 CAR-Trap"],"paddingInner":0.2}},
      "y":{"field":"level","type":"quantitative","scale":{"domain":[0,20]},"axis":{"values":[0,5,10,15,20],"title":"% pSmad2/3+ T cells","titlePadding":2,"labelFontSize":10.5,"titleFontSize":10}},"text":{"field":"label"}}}
   ]},
  {"width":52,"height":105,"data":{"values":[]},"mark":"point"},
  {"width":1,"height":105,"data":{"values":[]},"mark":"point"},
  {"width":52,"height":145,"data":{"values":[]},"mark":"point","title":{"text":"D","anchor":"start","frame":"group","dx":-2,"dy":7.5,"offset":0,"fontSize":13,"baseline":"alphabetic"}},
  {"width":218,"height":145,
   "layer":[
    {"data":{"name":"treg"},"mark":{"type":"bar"},"encoding":{
      "x":{"field":"cell","type":"nominal","sort":["NT","CD19 CAR","CD19 CAR-aPD1","CD19 CAR-Trap"],"scale":{"paddingInner":0.26,"paddingOuter":0.13},"axis":{"title":null,"labelAngle":-45,"labelFontSize":10,"labelPadding":2}},
      "xOffset":{"field":"culture","type":"nominal","scale":{"domain":["No target cell co-culture","Target cell co-culture"],"paddingInner":0.2}},
      "y":{"field":"pct","type":"quantitative","scale":{"domain":[0,25]},"axis":{"values":[0,5,10,15,20,25],"title":"% CD4+ CD25+ Foxp3+","titlePadding":3,"labelFontSize":10.5,"titleFontSize":10}},
      "color":{"field":"culture","type":"nominal","scale":{"domain":["No target cell co-culture","Target cell co-culture"],"range":["#000000","#858585"]},
        "legend":{"orient":"none","legendX":225,"legendY":-8.5,"title":null,"padding":0,"symbolType":"M-1,-0.4H1V0.4H-1Z","symbolSize":169,"labelFontSize":8.2,"labelFontWeight":"normal","labelOffset":6,"rowPadding":3,"symbolStrokeWidth":0,"labelColor":"black","labelLimit":300}}}},
    {"data":{"name":"treg"},"mark":{"type":"rule","color":"black","strokeWidth":1.2},"encoding":{
      "x":{"field":"cell","type":"nominal","sort":["NT","CD19 CAR","CD19 CAR-aPD1","CD19 CAR-Trap"],"scale":{"paddingInner":0.26,"paddingOuter":0.13},"axis":{"title":null,"labelAngle":-45,"labelFontSize":10,"labelPadding":2}},
      "xOffset":{"field":"culture","type":"nominal","scale":{"domain":["No target cell co-culture","Target cell co-culture"],"paddingInner":0.2}},
      "y":{"field":"pct","type":"quantitative","scale":{"domain":[0,25]},"axis":{"values":[0,5,10,15,20,25],"title":"% CD4+ CD25+ Foxp3+","titlePadding":3,"labelFontSize":10.5,"titleFontSize":10}},"y2":{"field":"hi"}}},
    {"data":{"name":"treg"},"mark":{"type":"tick","orient":"horizontal","size":7,"thickness":1.2,"color":"black"},"encoding":{
      "x":{"field":"cell","type":"nominal","sort":["NT","CD19 CAR","CD19 CAR-aPD1","CD19 CAR-Trap"],"scale":{"paddingInner":0.26,"paddingOuter":0.13},"axis":{"title":null,"labelAngle":-45,"labelFontSize":10,"labelPadding":2}},
      "xOffset":{"field":"culture","type":"nominal","scale":{"domain":["No target cell co-culture","Target cell co-culture"],"paddingInner":0.2}},
      "y":{"field":"hi","type":"quantitative","scale":{"domain":[0,25]},"axis":{"values":[0,5,10,15,20,25],"title":"% CD4+ CD25+ Foxp3+","titlePadding":3,"labelFontSize":10.5,"titleFontSize":10}}}},
    {"data":{"name":"tregBrackets"},"mark":{"type":"line","color":"#555555","strokeWidth":1},"encoding":{
      "x":{"field":"cell","type":"nominal","sort":["NT","CD19 CAR","CD19 CAR-aPD1","CD19 CAR-Trap"],"scale":{"paddingInner":0.26,"paddingOuter":0.13},"axis":{"title":null,"labelAngle":-45,"labelFontSize":10,"labelPadding":2}},
      "xOffset":{"field":"culture","type":"nominal","scale":{"domain":["No target cell co-culture","Target cell co-culture"],"paddingInner":0.2}},
      "y":{"field":"level","type":"quantitative","scale":{"domain":[0,25]},"axis":{"values":[0,5,10,15,20,25],"title":"% CD4+ CD25+ Foxp3+","titlePadding":3,"labelFontSize":10.5,"titleFontSize":10}},"detail":{"field":"seg"},"order":{"field":"k"}}},
    {"data":{"name":"tregStars"},"mark":{"type":"text","fontSize":8,"color":"#333333","baseline":"alphabetic"},"encoding":{
      "x":{"field":"cell","type":"nominal","sort":["NT","CD19 CAR","CD19 CAR-aPD1","CD19 CAR-Trap"],"scale":{"paddingInner":0.26,"paddingOuter":0.13},"axis":{"title":null,"labelAngle":-45,"labelFontSize":10,"labelPadding":2}},
      "xOffset":{"field":"culture","type":"nominal","scale":{"domain":["No target cell co-culture","Target cell co-culture"],"paddingInner":0.2}},
      "y":{"field":"level","type":"quantitative","scale":{"domain":[0,25]},"axis":{"values":[0,5,10,15,20,25],"title":"% CD4+ CD25+ Foxp3+","titlePadding":3,"labelFontSize":10.5,"titleFontSize":10}},"text":{"field":"label"}}}
   ]}
 ], "columns": 2, "spacing": 0, "bounds": "flush", "resolve": {"scale": {"color": "independent", "shape": "independent"}, "legend": {"color": "independent", "shape": "independent"}}},
 {"vconcat": [
  {"concat": [
   {"width":64,"height":90,"data":{"values":[]},"mark":"point","title":{"text":"C","anchor":"start","frame":"group","dx":4,"dy":5.5,"offset":0,"fontSize":13,"baseline":"alphabetic"}},
   {"width":101,"height":90,"view":{"stroke":"black","strokeWidth":1},
    "title":{"text":"NT","fontSize":10.5,"offset":0,"dy":6.5,"baseline":"alphabetic","frame":"group"},
    "layer":[
     {"data":{"name":"histograms"},"transform":[{"filter":"datum.sample === 'NT'"}],"mark":{"type":"line","strokeWidth":0.9,"interpolate":"monotone"},"encoding":{
       "x":{"field":"log_fi","type":"quantitative","scale":{"domain":[1.18,5.43],"nice":false,"zero":false},"axis":{"title":null,"values":[1.58,2,3,4,5],"labelExpr":"datum.value < 1.9 ? '0' : '10' + (datum.value < 2.5 ? '²' : datum.value < 3.5 ? '³' : datum.value < 4.5 ? '⁴' : '⁵')","labelFontSize":4.5,"labelFontWeight":"normal","tickSize":2,"tickWidth":0.6,"domain":false,"labelPadding":1}},
       "y":{"field":"pct_max","type":"quantitative","scale":{"domain":[0,105],"nice":false,"zero":false},"axis":{"title":null,"values":[0,20,40,60,80,100],"labelFontSize":4.5,"labelFontWeight":"normal","tickSize":2,"tickWidth":0.6,"domain":false,"labelPadding":1}},
       "color":{"field":"stain","type":"nominal","scale":{"domain":["Unstimulated","TGF-beta"],"range":["#e8453c","#3c3cf0"]},"legend":null}}},
     {"data":{"name":"gates"},"transform":[{"filter":"datum.sample === 'NT'"}],"mark":{"type":"rule","color":"#222222","strokeWidth":0.8},"encoding":{"x":{"field":"gate_start","type":"quantitative"},"x2":{"datum":5.43},"y":{"datum":45}}},
     {"data":{"name":"gates"},"transform":[{"filter":"datum.sample === 'NT'"}],"mark":{"type":"rule","color":"#222222","strokeWidth":0.8},"encoding":{"x":{"field":"gate_start","type":"quantitative"},"y":{"datum":42},"y2":{"datum":48}}},
     {"data":{"name":"gates"},"transform":[{"filter":"datum.sample === 'NT'"}],"mark":{"type":"text","fontSize":4.5,"baseline":"bottom","color":"black"},"encoding":{"x":{"datum":4.25},"y":{"datum":46.5},"text":{"field":"percent"}}},
     {"data":{"values":[{}]},"mark":{"type":"rule","color":"black","strokeWidth":1.3},"encoding":{"x":{"datum":0.254},"y":{"datum":-161},"y2":{"datum":4}}},
     {"data":{"values":[{}]},"mark":{"type":"rule","color":"black","strokeWidth":1.3},"encoding":{"x":{"datum":0.254},"x2":{"datum":8.9},"y":{"datum":-161}}},
     {"data":{"values":[{}]},"mark":{"type":"point","shape":"triangle-up","filled":true,"color":"black","opacity":1,"size":22},"encoding":{"x":{"datum":0.254},"y":{"datum":6}}},
     {"data":{"values":[{}]},"mark":{"type":"point","shape":"triangle-right","filled":true,"color":"black","opacity":1,"size":22},"encoding":{"x":{"datum":8.95},"y":{"datum":-161}}},
     {"data":{"values":[{"label":"% of Max"}]},"mark":{"type":"text","angle":270,"fontSize":11,"fontWeight":"bold","align":"center","baseline":"middle","color":"black"},"encoding":{"x":{"datum":-0.29},"y":{"datum":-66.5},"text":{"field":"label"}}},
     {"data":{"values":[{"label":"pSmad2/3"}]},"mark":{"type":"text","fontSize":11,"fontWeight":"bold","align":"center","baseline":"middle","color":"black"},"encoding":{"x":{"datum":5.43},"y":{"datum":-178.5},"text":{"field":"label"}}}
    ]},
   {"width":17,"height":90,"data":{"values":[]},"mark":"point"},
   {"width":100,"height":90,"view":{"stroke":"black","strokeWidth":1},
    "title":{"text":"CD19 CAR","fontSize":10.5,"offset":0,"dy":6.5,"baseline":"alphabetic","frame":"group"},
    "layer":[
     {"data":{"name":"histograms"},"transform":[{"filter":"datum.sample === 'CD19 CAR'"}],"mark":{"type":"line","strokeWidth":0.9,"interpolate":"monotone"},"encoding":{
       "x":{"field":"log_fi","type":"quantitative","scale":{"domain":[1.18,5.43],"nice":false,"zero":false},"axis":{"title":null,"values":[1.58,2,3,4,5],"labelExpr":"datum.value < 1.9 ? '0' : '10' + (datum.value < 2.5 ? '²' : datum.value < 3.5 ? '³' : datum.value < 4.5 ? '⁴' : '⁵')","labelFontSize":4.5,"labelFontWeight":"normal","tickSize":2,"tickWidth":0.6,"domain":false,"labelPadding":1}},
       "y":{"field":"pct_max","type":"quantitative","scale":{"domain":[0,105],"nice":false,"zero":false},"axis":{"title":null,"values":[0,20,40,60,80,100],"labelFontSize":4.5,"labelFontWeight":"normal","tickSize":2,"tickWidth":0.6,"domain":false,"labelPadding":1}},
       "color":{"field":"stain","type":"nominal","scale":{"domain":["Unstimulated","TGF-beta"],"range":["#e8453c","#3c3cf0"]},"legend":null}}},
     {"data":{"name":"gates"},"transform":[{"filter":"datum.sample === 'CD19 CAR'"}],"mark":{"type":"rule","color":"#222222","strokeWidth":0.8},"encoding":{"x":{"field":"gate_start","type":"quantitative"},"x2":{"datum":5.43},"y":{"datum":45}}},
     {"data":{"name":"gates"},"transform":[{"filter":"datum.sample === 'CD19 CAR'"}],"mark":{"type":"rule","color":"#222222","strokeWidth":0.8},"encoding":{"x":{"field":"gate_start","type":"quantitative"},"y":{"datum":42},"y2":{"datum":48}}},
     {"data":{"name":"gates"},"transform":[{"filter":"datum.sample === 'CD19 CAR'"}],"mark":{"type":"text","fontSize":4.5,"baseline":"bottom","color":"black"},"encoding":{"x":{"datum":4.25},"y":{"datum":46.5},"text":{"field":"percent"}}}
    ]},
   {"width":64,"height":28,"data":{"values":[]},"mark":"point"},
   {"width":1,"height":28,"data":{"values":[]},"mark":"point"},
   {"width":1,"height":28,"data":{"values":[]},"mark":"point"},
   {"width":1,"height":28,"data":{"values":[]},"mark":"point"},
   {"width":64,"height":90,"data":{"values":[]},"mark":"point","title":{"text":"E","orient":"bottom","anchor":"start","frame":"group","dx":-25,"dy":48,"offset":0,"fontSize":13,"baseline":"alphabetic"}},
   {"width":101,"height":90,"view":{"stroke":"black","strokeWidth":1},
    "title":{"text":"CD19 CAR-aPD1","fontSize":10.5,"offset":0,"dy":8.5,"baseline":"alphabetic","frame":"group"},
    "layer":[
     {"data":{"name":"histograms"},"transform":[{"filter":"datum.sample === 'CD19 CAR-aPD1'"}],"mark":{"type":"line","strokeWidth":0.9,"interpolate":"monotone"},"encoding":{
       "x":{"field":"log_fi","type":"quantitative","scale":{"domain":[1.18,5.43],"nice":false,"zero":false},"axis":{"title":null,"values":[1.58,2,3,4,5],"labelExpr":"datum.value < 1.9 ? '0' : '10' + (datum.value < 2.5 ? '²' : datum.value < 3.5 ? '³' : datum.value < 4.5 ? '⁴' : '⁵')","labelFontSize":4.5,"labelFontWeight":"normal","tickSize":2,"tickWidth":0.6,"domain":false,"labelPadding":1}},
       "y":{"field":"pct_max","type":"quantitative","scale":{"domain":[0,105],"nice":false,"zero":false},"axis":{"title":null,"values":[0,20,40,60,80,100],"labelFontSize":4.5,"labelFontWeight":"normal","tickSize":2,"tickWidth":0.6,"domain":false,"labelPadding":1}},
       "color":{"field":"stain","type":"nominal","scale":{"domain":["Unstimulated","TGF-beta"],"range":["#e8453c","#3c3cf0"]},"legend":null}}},
     {"data":{"name":"gates"},"transform":[{"filter":"datum.sample === 'CD19 CAR-aPD1'"}],"mark":{"type":"rule","color":"#222222","strokeWidth":0.8},"encoding":{"x":{"field":"gate_start","type":"quantitative"},"x2":{"datum":5.43},"y":{"datum":44}}},
     {"data":{"name":"gates"},"transform":[{"filter":"datum.sample === 'CD19 CAR-aPD1'"}],"mark":{"type":"rule","color":"#222222","strokeWidth":0.8},"encoding":{"x":{"field":"gate_start","type":"quantitative"},"y":{"datum":41},"y2":{"datum":47}}},
     {"data":{"name":"gates"},"transform":[{"filter":"datum.sample === 'CD19 CAR-aPD1'"}],"mark":{"type":"text","fontSize":4.5,"baseline":"bottom","color":"black"},"encoding":{"x":{"datum":4.25},"y":{"datum":45.5},"text":{"field":"percent"}}}
    ]},
   {"width":17,"height":90,"data":{"values":[]},"mark":"point"},
   {"width":100,"height":90,"view":{"stroke":"black","strokeWidth":1},
    "title":{"text":"CD19 CAR-Trap","fontSize":10.5,"offset":0,"dy":8.5,"baseline":"alphabetic","frame":"group"},
    "layer":[
     {"data":{"name":"histograms"},"transform":[{"filter":"datum.sample === 'CD19 CAR-Trap'"}],"mark":{"type":"line","strokeWidth":0.9,"interpolate":"monotone"},"encoding":{
       "x":{"field":"log_fi","type":"quantitative","scale":{"domain":[1.18,5.43],"nice":false,"zero":false},"axis":{"title":null,"values":[1.58,2,3,4,5],"labelExpr":"datum.value < 1.9 ? '0' : '10' + (datum.value < 2.5 ? '²' : datum.value < 3.5 ? '³' : datum.value < 4.5 ? '⁴' : '⁵')","labelFontSize":4.5,"labelFontWeight":"normal","tickSize":2,"tickWidth":0.6,"domain":false,"labelPadding":1}},
       "y":{"field":"pct_max","type":"quantitative","scale":{"domain":[0,105],"nice":false,"zero":false},"axis":{"title":null,"values":[0,20,40,60,80,100],"labelFontSize":4.5,"labelFontWeight":"normal","tickSize":2,"tickWidth":0.6,"domain":false,"labelPadding":1}},
       "color":{"field":"stain","type":"nominal","scale":{"domain":["Unstimulated","TGF-beta"],"range":["#e8453c","#3c3cf0"]},"legend":null}}},
     {"data":{"name":"gates"},"transform":[{"filter":"datum.sample === 'CD19 CAR-Trap'"}],"mark":{"type":"rule","color":"#222222","strokeWidth":0.8},"encoding":{"x":{"field":"gate_start","type":"quantitative"},"x2":{"datum":5.43},"y":{"datum":46}}},
     {"data":{"name":"gates"},"transform":[{"filter":"datum.sample === 'CD19 CAR-Trap'"}],"mark":{"type":"rule","color":"#222222","strokeWidth":0.8},"encoding":{"x":{"field":"gate_start","type":"quantitative"},"y":{"datum":43},"y2":{"datum":49}}},
     {"data":{"name":"gates"},"transform":[{"filter":"datum.sample === 'CD19 CAR-Trap'"}],"mark":{"type":"text","fontSize":4.5,"baseline":"bottom","color":"black"},"encoding":{"x":{"datum":4.15},"y":{"datum":47.5},"text":{"field":"percent"}}}
    ]}
  ], "columns": 4, "spacing": 0, "bounds": "flush", "resolve": {"scale": {"color": "independent", "shape": "independent"}, "legend": {"color": "independent", "shape": "independent"}}},
  {"width":210,"height":138,
   "layer":[
    {"data":{"name":"ifng"},"mark":{"type":"bar"},"encoding":{
      "x":{"field":"time","type":"nominal","scale":{"paddingInner":0.2,"paddingOuter":0.1},"axis":{"title":null,"labelAngle":-45,"labelFontSize":10,"labelPadding":2}},
      "xOffset":{"field":"group","type":"nominal","scale":{"domain":["NT","CD19 CAR","CD19 CAR-aPD1","CD19 CAR-Trap"],"paddingInner":0.2}},
      "y":{"field":"ifng","type":"quantitative","scale":{"domain":[0,400]},"axis":{"values":[0,100,200,300,400],"title":"IFN-γ (pg/mL)","titlePadding":2,"labelFontSize":10.5,"titleFontSize":10.5}},
      "color":{"field":"group","type":"nominal","scale":{"domain":["NT","CD19 CAR","CD19 CAR-aPD1","CD19 CAR-Trap"],"range":["#000000","#8a8a8a","#656565","#cdcdcd"]},
        "legend":{"orient":"none","legendX":230,"legendY":3.5,"title":null,"padding":0,"symbolType":"M-1,-0.55H1V0.55H-1Z","symbolSize":225,"labelFontSize":9.3,"labelFontWeight":"normal","labelOffset":4,"rowPadding":1.3,"symbolStrokeWidth":0,"labelColor":"black"}}}},
    {"data":{"name":"ifng"},"mark":{"type":"rule","color":"black","strokeWidth":1.2},"encoding":{
      "x":{"field":"time","type":"nominal","scale":{"paddingInner":0.2,"paddingOuter":0.1},"axis":{"title":null,"labelAngle":-45,"labelFontSize":10,"labelPadding":2}},
      "xOffset":{"field":"group","type":"nominal","scale":{"domain":["NT","CD19 CAR","CD19 CAR-aPD1","CD19 CAR-Trap"],"paddingInner":0.2}},
      "y":{"field":"ifng","type":"quantitative","scale":{"domain":[0,400]},"axis":{"values":[0,100,200,300,400],"title":"IFN-γ (pg/mL)","titlePadding":2,"labelFontSize":10.5,"titleFontSize":10.5}},"y2":{"field":"hi"}}},
    {"data":{"name":"ifng"},"mark":{"type":"tick","orient":"horizontal","size":6,"thickness":1.2,"color":"black"},"encoding":{
      "x":{"field":"time","type":"nominal","scale":{"paddingInner":0.2,"paddingOuter":0.1},"axis":{"title":null,"labelAngle":-45,"labelFontSize":10,"labelPadding":2}},
      "xOffset":{"field":"group","type":"nominal","scale":{"domain":["NT","CD19 CAR","CD19 CAR-aPD1","CD19 CAR-Trap"],"paddingInner":0.2}},
      "y":{"field":"hi","type":"quantitative","scale":{"domain":[0,400]},"axis":{"values":[0,100,200,300,400],"title":"IFN-γ (pg/mL)","titlePadding":2,"labelFontSize":10.5,"titleFontSize":10.5}}}},
    {"data":{"name":"ifngBrackets"},"mark":{"type":"line","color":"#555555","strokeWidth":1},"encoding":{
      "x":{"field":"time","type":"nominal","scale":{"paddingInner":0.2,"paddingOuter":0.1},"axis":{"title":null,"labelAngle":-45,"labelFontSize":10,"labelPadding":2}},
      "xOffset":{"field":"group","type":"nominal","scale":{"domain":["NT","CD19 CAR","CD19 CAR-aPD1","CD19 CAR-Trap"],"paddingInner":0.2}},
      "y":{"field":"level","type":"quantitative","scale":{"domain":[0,400]},"axis":{"values":[0,100,200,300,400],"title":"IFN-γ (pg/mL)","titlePadding":2,"labelFontSize":10.5,"titleFontSize":10.5}},"detail":{"field":"seg"},"order":{"field":"k"}}},
    {"data":{"name":"ifngStars"},"mark":{"type":"text","fontSize":8,"color":"#333333","baseline":"alphabetic"},"encoding":{
      "x":{"field":"time","type":"nominal","scale":{"paddingInner":0.2,"paddingOuter":0.1},"axis":{"title":null,"labelAngle":-45,"labelFontSize":10,"labelPadding":2}},
      "xOffset":{"field":"group","type":"nominal","scale":{"domain":["NT","CD19 CAR","CD19 CAR-aPD1","CD19 CAR-Trap"],"paddingInner":0.2}},
      "y":{"field":"level","type":"quantitative","scale":{"domain":[0,400]},"axis":{"values":[0,100,200,300,400],"title":"IFN-γ (pg/mL)","titlePadding":2,"labelFontSize":10.5,"titleFontSize":10.5}},"text":{"field":"label"}}}
   ]}
 ], "spacing": 15, "resolve": {"scale": {"color": "independent", "shape": "independent"}, "legend": {"color": "independent", "shape": "independent"}}}
], "spacing": 7, "resolve": {"scale": {"color": "independent", "shape": "independent"}, "legend": {"color": "independent", "shape": "independent"}}}
],
"config": {
 "font": "Liberation Sans",
 "view": {"stroke": null},
 "axis": {"grid": false, "domainColor": "black", "domainWidth": 1.5, "tickColor": "black", "tickWidth": 1.5, "tickSize": 4, "labelColor": "black", "labelFontWeight": "bold", "labelFontSize": 9, "titleColor": "black", "titleFontWeight": "bold", "titleFontSize": 9, "labelPadding": 1.5},
 "legend": {"labelColor": "black", "labelFontWeight": "normal"},
 "title": {"color": "black", "fontWeight": "bold"}
}
}
